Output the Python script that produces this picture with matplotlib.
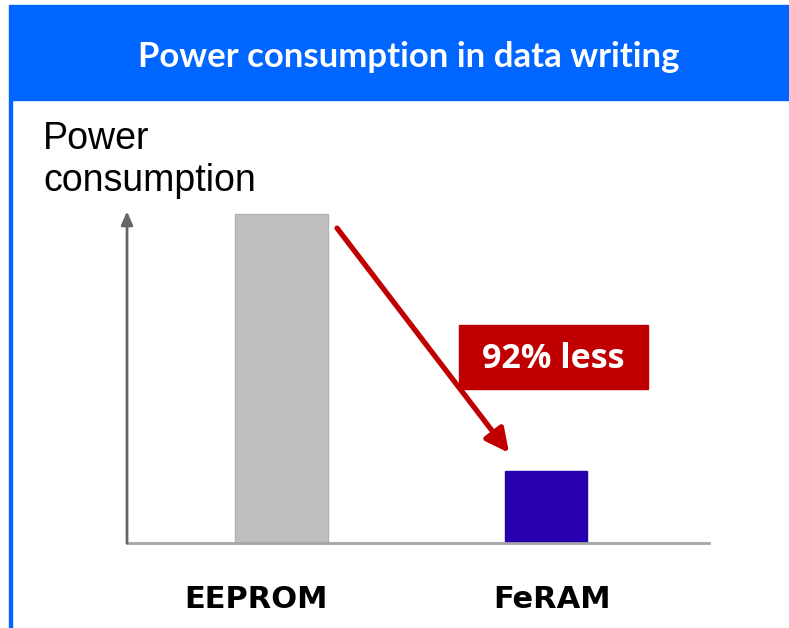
import matplotlib
matplotlib.use("Agg")
import matplotlib.pyplot as plt
from matplotlib.patches import Rectangle

# data
categories = ["EEPROM", "FeRAM"]
values = [100, 22]
bar_colors = ["#bfbfbf", "#2800b0"]
bar_widths = [0.35, 0.31]
title = "Power consumption in data writing"
ylabel = "Power\nconsumption"
callout = "92% less"

blue = "#0066ff"
red = "#c00000"

fig = plt.figure(figsize=(7.89, 6.28), dpi=100)

# title band and left border
fig.patches.append(Rectangle((9 / 789, 1 - 100 / 628), 1, 95 / 628,
                             transform=fig.transFigure, color=blue, zorder=0))
fig.patches.append(Rectangle((9 / 789, 0), 2.5 / 789, 1 - 100 / 628,
                             transform=fig.transFigure, color=blue, zorder=0))
fig.text(409 / 789, 1 - 57 / 628, title, color="white", fontsize=25,
         fontfamily="Lato", fontweight="bold", ha="center", va="center")

ax = fig.add_axes([127 / 789, 85 / 628, 582 / 789, 330 / 628])
x = list(range(len(categories)))
ax.bar(x, values, width=bar_widths, color=bar_colors,
       edgecolor=["#b0b0b0", bar_colors[1]], linewidth=1)
ax.set_xlim(-0.584, 1.616)
ax.set_ylim(0, 100.3)

for s in ["top", "right", "left"]:
    ax.spines[s].set_visible(False)
ax.spines["bottom"].set_color("#a6a6a6")
ax.spines["bottom"].set_linewidth(2)
ax.set_yticks([])
ax.set_xticks([-0.096, 1.023])
ax.set_xticklabels(categories, fontsize=22, fontweight="bold",
                   fontfamily="DejaVu Sans")
ax.tick_params(axis="x", length=0, pad=30)

# y axis arrow
ax.annotate("", xy=(0, 1.005), xytext=(0, 0), xycoords="axes fraction",
            arrowprops=dict(arrowstyle="-|>,head_length=0.8,head_width=0.35",
                            color="#666666", lw=2, shrinkA=0, shrinkB=0))

# reduction arrow
ax.annotate("", xy=(0.86, 27.4), xytext=(0.21, 95.7),
            arrowprops=dict(arrowstyle="-|>,head_length=1.4,head_width=0.7",
                            color=red, lw=3.8, shrinkA=0, shrinkB=0))

# callout box
ax.add_patch(Rectangle((0.671, 46.8), 0.715, 19.5, color=red, zorder=3))
ax.text(1.0285, 56.0, callout, color="white", fontsize=24.5, fontweight="bold",
        fontfamily="Open Sans", ha="center", va="center", zorder=4)

fig.text(43 / 789, 1 - 121 / 628, ylabel, fontsize=27,
         fontfamily="Liberation Sans", ha="left", va="top", linespacing=1.2)

fig.savefig("out.png", dpi=100, facecolor="white")
